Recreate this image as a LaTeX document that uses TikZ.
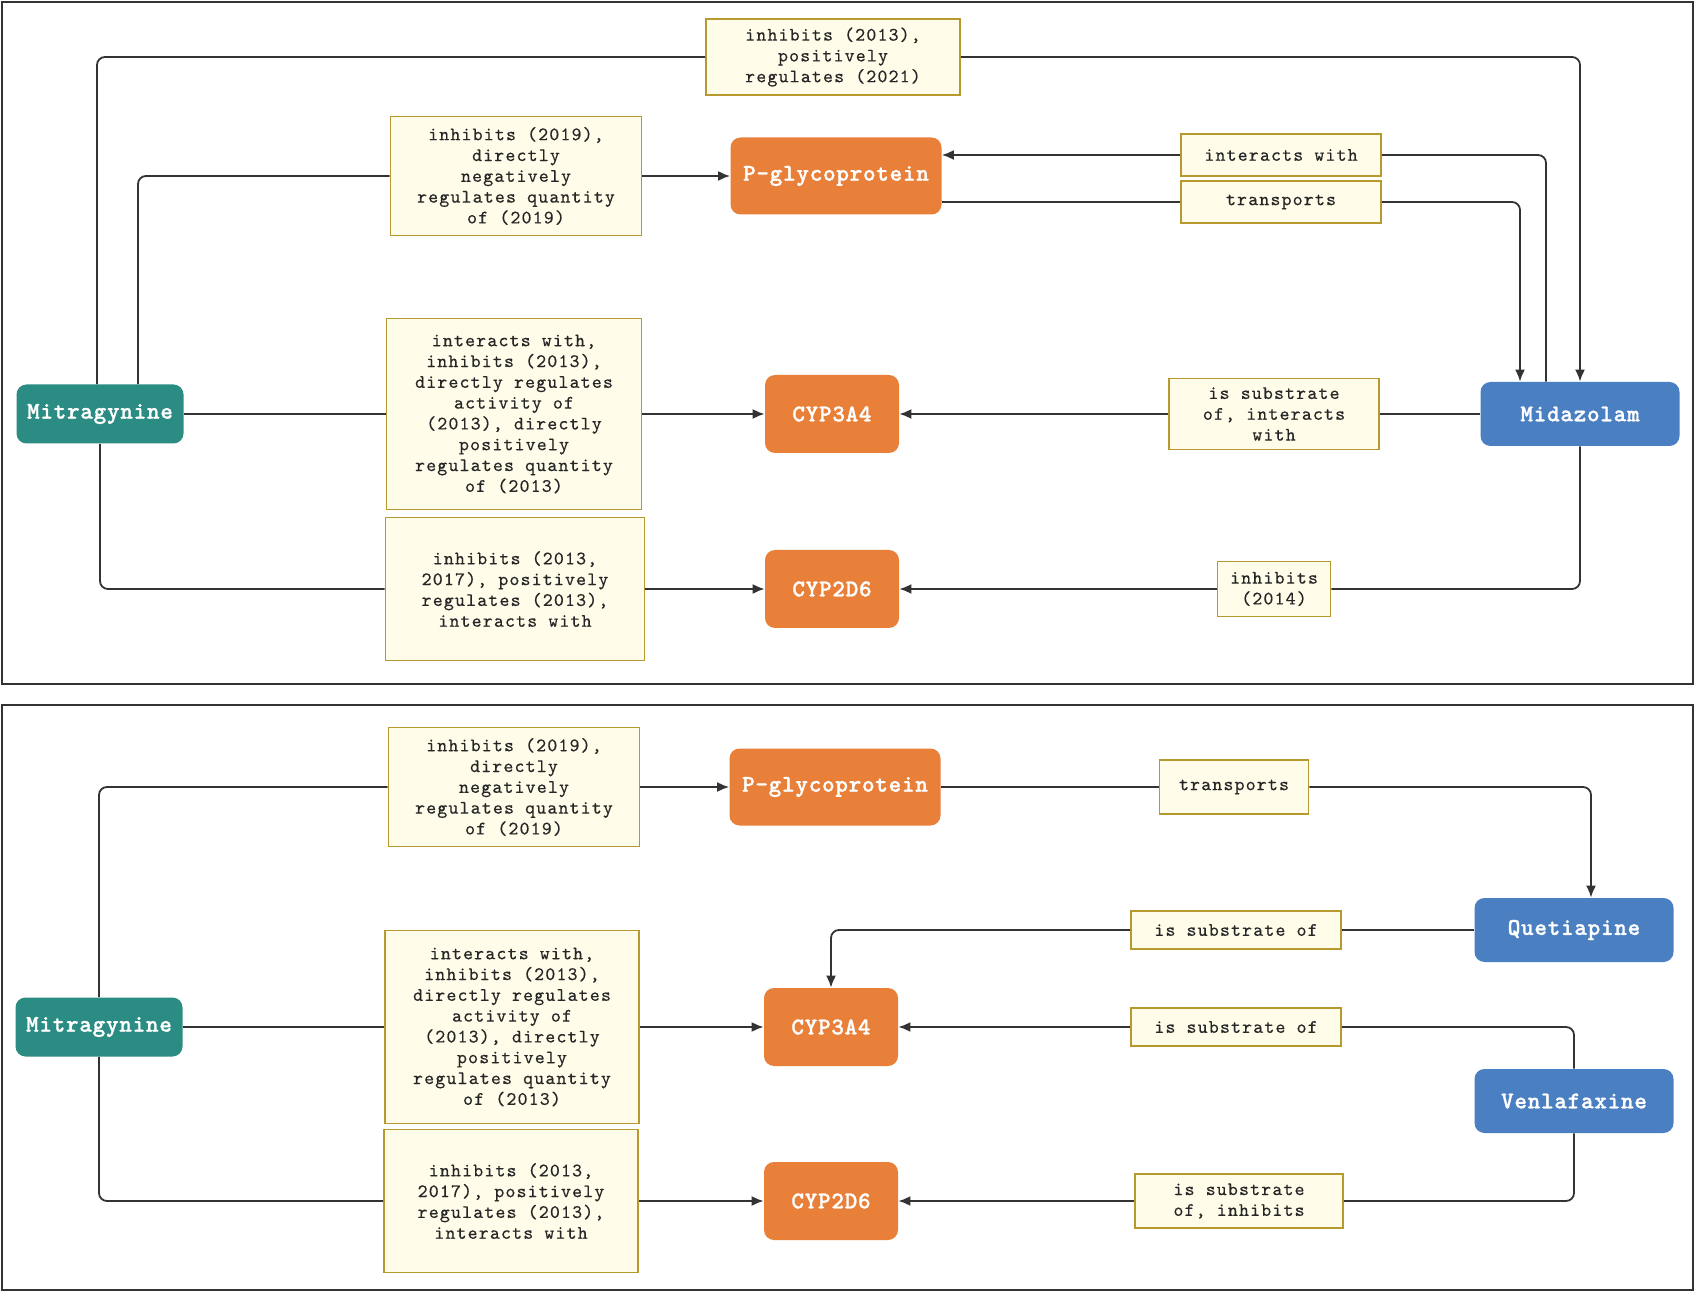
\documentclass[tikz,border=0pt]{standalone}
\usepackage{fontspec}
\newfontfamily\relfont{lmmono10-regular}[Extension=.otf, LetterSpace=6, FakeBold=0.4]
\newfontfamily\entfont{lmmonolt10-bold}[Extension=.otf, LetterSpace=3, FakeBold=1.2]
\usepackage{tikz}
\usetikzlibrary{positioning, calc, arrows.meta}

\definecolor{drugteal}{RGB}{42,140,130}
\definecolor{protorange}{RGB}{232,128,58}
\definecolor{drugblue}{RGB}{74,127,193}
\definecolor{relfill}{RGB}{255,253,234}
\definecolor{reldraw}{RGB}{184,153,46}
\definecolor{edgegray}{RGB}{51,51,51}

\tikzset{
  entity/.style={rounded corners=5pt, text=white, font={\entfont\fontsize{12}{14}\selectfont}, inner sep=0pt, align=center},
  mitra/.style={entity, fill=drugteal, minimum width=83.5pt, minimum height=29.5pt},
  pgp/.style={entity, fill=protorange, minimum width=105.5pt, minimum height=38.5pt},
  cyp/.style={entity, fill=protorange, minimum width=67pt, minimum height=39pt},
  drug/.style={entity, fill=drugblue, minimum width=99.5pt, minimum height=32pt},
  rel/.style={draw=reldraw, fill=relfill, line width=0.9pt, text=black!85, font={\relfont\fontsize{9.5}{10.4}\selectfont}, align=center, inner sep=0pt},
  link/.style={draw=edgegray, line width=0.9pt, rounded corners=4pt},
  linkto/.style={link, -{Latex[length=6pt,width=5pt]}},
  panel/.style={draw=edgegray, line width=1.2pt},
}

\begin{document}
\begin{tikzpicture}[x=0.5pt, y=-0.5pt]
      \useasboundingbox (0,0) rectangle (1696,1293);
      \draw[panel] (2,2) rectangle (1693,684);
      \draw[panel] (2,705) rectangle (1693,1290);

      % top panel: Mitragynine and Midazolam
      \node[mitra] (mitA) at (100,414) {Mitragynine};
      \node[pgp] (pgpA) at (836,176) {P-glycoprotein};
      \node[cyp] (cyp3A) at (832,414) {CYP3A4};
      \node[cyp] (cyp2A) at (832,589) {CYP2D6};
      \node[drug] (midA) at (1580,414) {Midazolam};

      \node[rel, minimum width=127pt, minimum height=38pt] (lA1) at (833,57) {inhibits (2013),\\positively\\regulates (2021)};
      \node[rel, minimum width=125.5pt, minimum height=59.5pt] (lA2) at (516,176) {inhibits (2019),\\directly\\negatively\\regulates quantity\\of (2019)};
      \node[rel, minimum width=100pt, minimum height=21pt] (lA3) at (1281,155) {interacts with};
      \node[rel, minimum width=100pt, minimum height=21pt] (lA4) at (1281,202) {transports};
      \node[rel, minimum width=127.5pt, minimum height=95.5pt] (lA5) at (514,414) {interacts with,\\inhibits (2013),\\directly regulates\\activity of\\(2013), directly\\positively\\regulates quantity\\of (2013)};
      \node[rel, minimum width=129.5pt, minimum height=71.5pt] (lA6) at (515,589) {inhibits (2013,\\2017), positively\\regulates (2013),\\interacts with};
      \node[rel, minimum width=105pt, minimum height=35.5pt] (lA7) at (1274,414) {is substrate\\of, interacts\\with};
      \node[rel, minimum width=56.5pt, minimum height=27.5pt] (lA8) at (1274,589) {inhibits\\(2014)};

      \draw[link] ($(mitA.north)+(-3,0)$) |- (lA1.west);
      \draw[linkto] (lA1.east) -| (midA.north);
      \draw[link] ($(mitA.north)+(38,0)$) |- (lA2.west);
      \draw[linkto] (lA2.east) -- (pgpA.west);
      \draw[link] (mitA.east) -- (lA5.west);
      \draw[linkto] (lA5.east) -- (cyp3A.west);
      \draw[link] (mitA.south) |- (lA6.west);
      \draw[linkto] (lA6.east) -- (cyp2A.west);
      \draw[link] ($(midA.north)+(-34,0)$) |- (lA3.east);
      \draw[linkto] (lA3.west) -- (pgpA.east |- lA3.west);
      \draw[link] (pgpA.east |- lA4.west) -- (lA4.west);
      \draw[linkto] (lA4.east) -| ($(midA.north)+(-60,0)$);
      \draw[link] (midA.west) -- (lA7.east);
      \draw[linkto] (lA7.west) -- (cyp3A.east);
      \draw[link] (midA.south) |- (lA8.east);
      \draw[linkto] (lA8.west) -- (cyp2A.east);

      % bottom panel: Mitragynine, Quetiapine and Venlafaxine
      \node[mitra] (mitB) at (99,1027) {Mitragynine};
      \node[pgp] (pgpB) at (835,787) {P-glycoprotein};
      \node[cyp] (cyp3B) at (831,1027) {CYP3A4};
      \node[cyp] (cyp2B) at (831,1201) {CYP2D6};
      \node[drug] (queB) at (1574,930) {Quetiapine};
      \node[drug] (venB) at (1574,1101) {Venlafaxine};

      \node[rel, minimum width=125.5pt, minimum height=59.5pt] (lB1) at (514,787) {inhibits (2019),\\directly\\negatively\\regulates quantity\\of (2019)};
      \node[rel, minimum width=74.5pt, minimum height=27pt] (lB2) at (1234,787) {transports};
      \node[rel, minimum width=105pt, minimum height=19pt] (lB3) at (1236,930) {is substrate of};
      \node[rel, minimum width=127pt, minimum height=96.5pt] (lB4) at (512,1027) {interacts with,\\inhibits (2013),\\directly regulates\\activity of\\(2013), directly\\positively\\regulates quantity\\of (2013)};
      \node[rel, minimum width=105pt, minimum height=19pt] (lB5) at (1236,1027) {is substrate of};
      \node[rel, minimum width=127pt, minimum height=71.5pt] (lB6) at (511,1201) {inhibits (2013,\\2017), positively\\regulates (2013),\\interacts with};
      \node[rel, minimum width=104pt, minimum height=27pt] (lB7) at (1239,1201) {is substrate\\of, inhibits};

      \draw[link] (mitB.north) |- (lB1.west);
      \draw[linkto] (lB1.east) -- (pgpB.west);
      \draw[link] (mitB.east) -- (lB4.west);
      \draw[linkto] (lB4.east) -- (cyp3B.west);
      \draw[link] (mitB.south) |- (lB6.west);
      \draw[linkto] (lB6.east) -- (cyp2B.west);
      \draw[link] (pgpB.east) -- (lB2.west);
      \draw[linkto] (lB2.east) -| ($(queB.north)+(17,0)$);
      \draw[link] (queB.west) -- (lB3.east);
      \draw[linkto] (lB3.west) -| (cyp3B.north);
      \draw[link] (venB.north) |- (lB5.east);
      \draw[linkto] (lB5.west) -- (cyp3B.east);
      \draw[link] (venB.south) |- (lB7.east);
      \draw[linkto] (lB7.west) -- (cyp2B.east);
\end{tikzpicture}
\end{document}
